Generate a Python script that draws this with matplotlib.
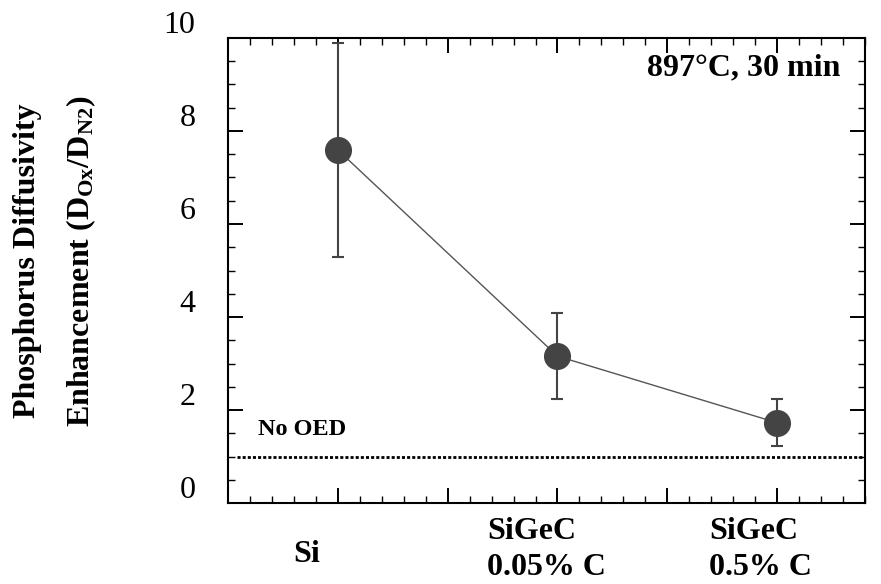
import matplotlib
matplotlib.use("Agg")
import matplotlib.pyplot as plt
from matplotlib.ticker import MultipleLocator, NullFormatter
from matplotlib.transforms import ScaledTranslation

# ---- data ----
categories = ["Si", "SiGeC\n0.05% C", "SiGeC\n0.5% C"]
x_pos = [1, 2, 3]
enhancement = [7.59, 3.16, 1.73]
enh_err = [2.29, 0.93, 0.50]
no_oed_level = 1.0
y_ticks = [0, 2, 4, 6, 8, 10]
annotation = "897°C, 30 min"

plt.rcParams["font.family"] = ["Liberation Serif", "DejaVu Serif"]
plt.rcParams["mathtext.fontset"] = "custom"
plt.rcParams["mathtext.rm"] = "Liberation Serif:bold"
plt.rcParams["mathtext.it"] = "Liberation Serif:bold"
plt.rcParams["mathtext.bf"] = "Liberation Serif:bold"

fig = plt.figure(figsize=(8.81, 5.84), dpi=100)
ax = fig.add_axes([228 / 881, 1 - 503.3 / 584, 637 / 881, 465.6 / 584])

dark = "#444444"
ax.plot(x_pos, enhancement, color="#555555", lw=1.0, zorder=2)
ax.errorbar(x_pos, enhancement, yerr=enh_err, fmt="none", ecolor=dark,
            elinewidth=1.5, capsize=4, capthick=1.5, zorder=3)
ax.plot(x_pos, enhancement, "o", color=dark, markersize=19.5,
        markeredgewidth=0, zorder=4)

ax.axhline(no_oed_level, xmin=0.014, xmax=0.997, color="black", lw=2.0,
           linestyle=(0, (1.1, 0.75)), zorder=1)

ax.set_xlim(0.5, 3.4)
ax.set_ylim(0, 10)
ax.xaxis.set_major_locator(MultipleLocator(0.5))
ax.xaxis.set_minor_locator(MultipleLocator(0.1))
ax.xaxis.set_major_formatter(NullFormatter())
ax.set_yticks(y_ticks)
ax.set_yticklabels([str(v) for v in y_ticks])
ax.yaxis.set_minor_locator(MultipleLocator(0.5))

for s in ax.spines.values():
    s.set_linewidth(1.5)
ax.tick_params(which="both", direction="in", top=True, right=True,
               labelsize=23, pad=23.5)
ax.tick_params(which="major", length=10.5, width=1.4)
ax.tick_params(which="minor", length=5, width=1.0)

offset = ScaledTranslation(0, 0.16, fig.dpi_scale_trans)
for lab in ax.get_yticklabels():
    lab.set_transform(lab.get_transform() + offset)

# category labels below axis (y = baseline of last line)
label_dx = [-0.205, -0.32, -0.31]
label_y = [-0.126, -0.154, -0.154]
xt = ax.get_xaxis_transform()
for xp, dx, ly, lab in zip(x_pos, label_dx, label_y, categories):
    ax.text(xp + dx, ly, lab, transform=xt, ha="left", va="baseline",
            fontsize=23, fontweight="bold", linespacing=1.3,
            multialignment="left", clip_on=False)

ax.text(0.961, 0.92, annotation, transform=ax.transAxes, ha="right",
        va="baseline", fontsize=23, fontweight="bold")
ax.text(0.047, 0.147, "No OED", transform=ax.transAxes, ha="left",
        va="baseline", fontsize=17.5, fontweight="bold")

# y-axis title (two lines)
fig.text(35 / 881, 1 - 261 / 584, "Phosphorus Diffusivity", rotation=90,
         rotation_mode="anchor", ha="center", va="baseline",
         fontsize=23, fontweight="bold")
fig.text(89 / 881, 1 - 261 / 584,
         "Enhancement (D$_{Ox}$/D$_{N2}$)", rotation=90,
         rotation_mode="anchor", ha="center", va="baseline",
         fontsize=23, fontweight="bold")

fig.savefig("out.png", dpi=100)
